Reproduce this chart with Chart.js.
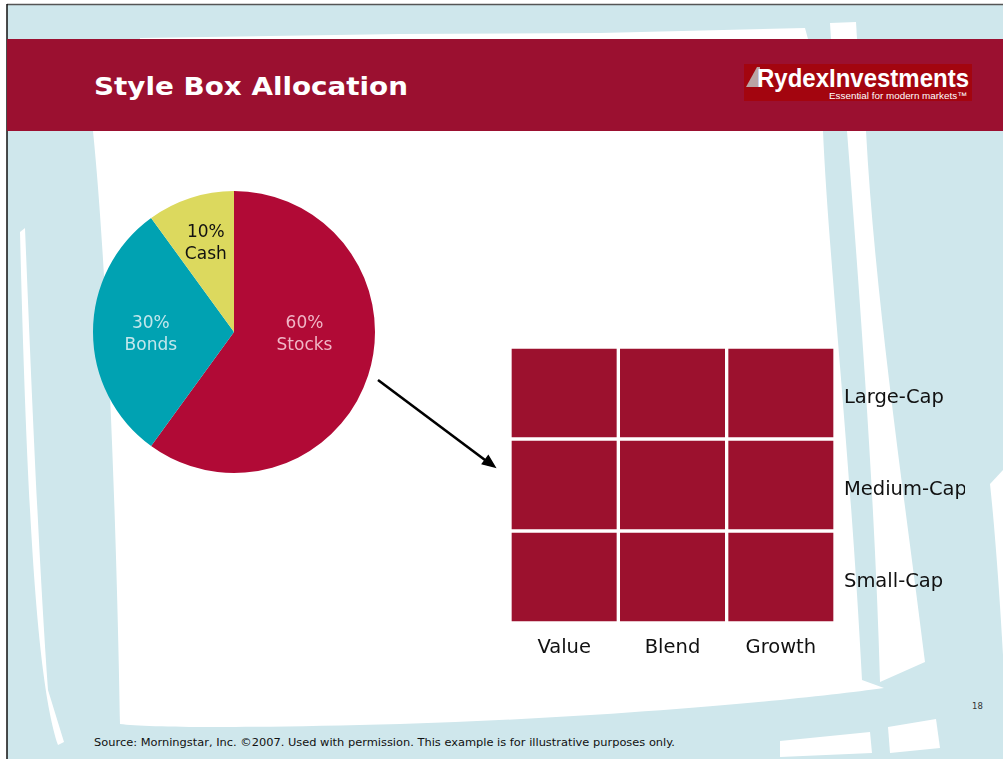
<!DOCTYPE html>
<html>
<head>
<meta charset="utf-8">
<title>Style Box Allocation</title>
<script src="https://cdn.jsdelivr.net/npm/chart.js"></script>
<style>
    html, body { margin: 0; padding: 0; background: #fff; }
    #slide { position: relative; width: 1003px; height: 759px; overflow: hidden; }
    #slide svg, #slide canvas { position: absolute; }
    #bg { left: 0; top: 0; }
    #pieChart { left: 89px; top: 187px; }
    #boxChart { left: 480px; top: 320px; }
</style>
</head>
<body>
<div id="slide">
<svg id="bg" width="1003" height="759" xmlns="http://www.w3.org/2000/svg">
    <!-- slide backdrop: pale blue with white brush strokes -->
    <rect x="7" y="4" width="996" height="755" fill="#cfe7ec"/>
    <path d="M140,38 L400,34 L600,33 L805,28 L808,39 L140,39 Z" fill="#fff"/>
    <path d="M830,23 L856,22 L857,39 L831,39 Z" fill="#fff"/>
    <path d="M93,131 L823,131 C828,250 850,450 862,680 L884,688 C800,700 600,718 400,724 C250,728 150,728 120,724 C118,600 110,300 93,131 Z" fill="#fff"/>
    <path d="M847,131 L866,131 C875,300 905,500 925,662 L880,682 C875,500 860,300 847,131 Z" fill="#fff"/>
    <path d="M990,484 L1003,470 L1003,655 C1000,600 995,530 990,484 Z" fill="#fff"/>
    <path d="M888,727 L936,719 L940,748 L890,753 Z" fill="#fff"/>
    <path d="M780,741 L870,732 L872,753 L780,757 Z" fill="#fff"/>
    <path d="M20,232 L25,228 C30,350 38,550 48,690 L64,742 L58,745 C40,690 28,560 20,232 Z" fill="#fff"/>
    <line x1="7" y1="4.5" x2="1003" y2="4.5" stroke="#555" stroke-width="1.5"/>
    <line x1="7" y1="4" x2="7" y2="759" stroke="#111" stroke-width="1.5"/>

    <!-- header band -->
    <rect x="7" y="39" width="996" height="92" fill="#9b1030"/>
    <text x="94" y="95" font-family="DejaVu Sans, Verdana, sans-serif" font-weight="bold" font-size="25.5" fill="#fff"
          textLength="314" lengthAdjust="spacingAndGlyphs">Style Box Allocation</text>

    <!-- logo -->
    <rect x="744" y="64" width="228" height="37" fill="#a3050f"/>
    <path d="M746,87 L757,67 L760,67 L760,87 Z" fill="#b9a5a5"/>
    <text x="757" y="87" font-family="Liberation Sans Narrow, Liberation Sans, Arial, sans-serif" font-weight="bold" font-size="26" fill="#fff"
          textLength="212" lengthAdjust="spacingAndGlyphs">RydexInvestments</text>
    <text x="829" y="99" font-family="Liberation Sans, Arial, sans-serif" font-size="9.5" fill="#fff"
          textLength="138" lengthAdjust="spacingAndGlyphs">Essential for modern markets™</text>

    <!-- arrow from the stock slice to the style box -->
    <line x1="378" y1="380" x2="485" y2="460" stroke="#000" stroke-width="2.6"/>
    <path d="M495,467 L482.4,463.9 L488.3,455.9 Z" fill="#000" stroke="#000" stroke-width="1.5"/>

    <!-- footer -->
    <text x="972" y="709" font-family="DejaVu Sans, Verdana, sans-serif" font-size="8.5" fill="#333">18</text>
    <text x="94" y="746" font-family="DejaVu Sans, Verdana, sans-serif" font-size="10.5" fill="#111"
          textLength="581" lengthAdjust="spacingAndGlyphs">Source: Morningstar, Inc. ©2007. Used with permission. This example is for illustrative purposes only.</text>
</svg>
<canvas id="pieChart" width="290" height="290"></canvas>
<canvas id="boxChart" width="523" height="360"></canvas>
</div>
<script>
    // asset allocation
    var allocLabels = ['Stocks', 'Bonds', 'Cash'];
    var allocPct = [60, 30, 10];
    var allocColors = ['#b10a36', '#00a2b2', '#dcd95e'];
    var allocTextColors = ['#f0b6c6', '#c3e7ec', '#111'];

    // style box: columns by style, rows by market cap
    var styleColumns = ['Value', 'Blend', 'Growth'];
    var capRows = ['Large-Cap', 'Medium-Cap', 'Small-Cap'];
    var boxLarge = [1, 1, 1];
    var boxMedium = [1, 1, 1];
    var boxSmall = [1, 1, 1];
    var boxColor = '#9c112e';

    // label spots inside each slice, in units of the radius from the centre
    var sliceLabels = {
        id: 'sliceLabels',
        afterDatasetsDraw: function (chart, args, opts) {
            var ctx = chart.ctx;
            var arcs = chart.getDatasetMeta(0).data;
            ctx.save();
            ctx.font = '17px "DejaVu Sans", Verdana, sans-serif';
            ctx.textAlign = 'center';
            ctx.textBaseline = 'middle';
            arcs.forEach(function (arc, i) {
                var r = arc.outerRadius;
                var x = arc.x + opts.spots[i][0] * r;
                var y = arc.y + opts.spots[i][1] * r;
                ctx.fillStyle = allocTextColors[i];
                ctx.fillText(allocPct[i] + '%', x, y - 10);
                ctx.fillText(chart.data.labels[i], x, y + 12);
            });
            ctx.restore();
        }
    };

    new Chart(document.getElementById('pieChart'), {
        type: 'pie',
        data: {
            labels: allocLabels,
            datasets: [{
                data: allocPct,
                backgroundColor: allocColors,
                borderWidth: 0,
                hoverOffset: 0,
                offset: 0
            }]
        },
        options: {
            responsive: false,
            animation: false,
            events: [],
            layout: { padding: 4 },
            plugins: {
                legend: { display: false },
                tooltip: { enabled: false },
                sliceLabels: { spots: [[0.5, 0.01], [-0.59, 0.01], [-0.2, -0.635]] }
            }
        },
        plugins: [sliceLabels]
    });

    var tickFont = { family: '"DejaVu Sans", Verdana, sans-serif', size: 19.5 };

    new Chart(document.getElementById('boxChart'), {
        type: 'bar',
        data: {
            labels: styleColumns,
            datasets: [
                { label: capRows[2], data: boxSmall },
                { label: capRows[1], data: boxMedium },
                { label: capRows[0], data: boxLarge }
            ].map(function (d) {
                d.backgroundColor = boxColor;
                d.borderColor = '#fff';
                d.borderWidth = 2;
                d.borderSkipped = false;
                d.barPercentage = 1;
                d.categoryPercentage = 1;
                return d;
            })
        },
        options: {
            responsive: false,
            animation: false,
            events: [],
            layout: { padding: { left: 30, top: 27, right: 38, bottom: 21 } },
            plugins: { legend: { display: false }, tooltip: { enabled: false } },
            scales: {
                x: {
                    stacked: true,
                    grid: { display: false, drawTicks: false },
                    border: { display: false },
                    ticks: { color: '#111', font: tickFont, padding: 13 },
                    afterFit: function (s) { s.height = 36; }
                },
                y: {
                    stacked: true,
                    display: false,
                    min: 0,
                    max: 3
                },
                rows: {
                    type: 'category',
                    labels: capRows,
                    position: 'right',
                    offset: true,
                    grid: { display: false, drawTicks: false },
                    border: { display: false },
                    ticks: { color: '#111', font: tickFont, padding: 9, labelOffset: 5 },
                    afterFit: function (s) { s.width = 130; }
                }
            }
        }
    });
</script>
</body>
</html>
